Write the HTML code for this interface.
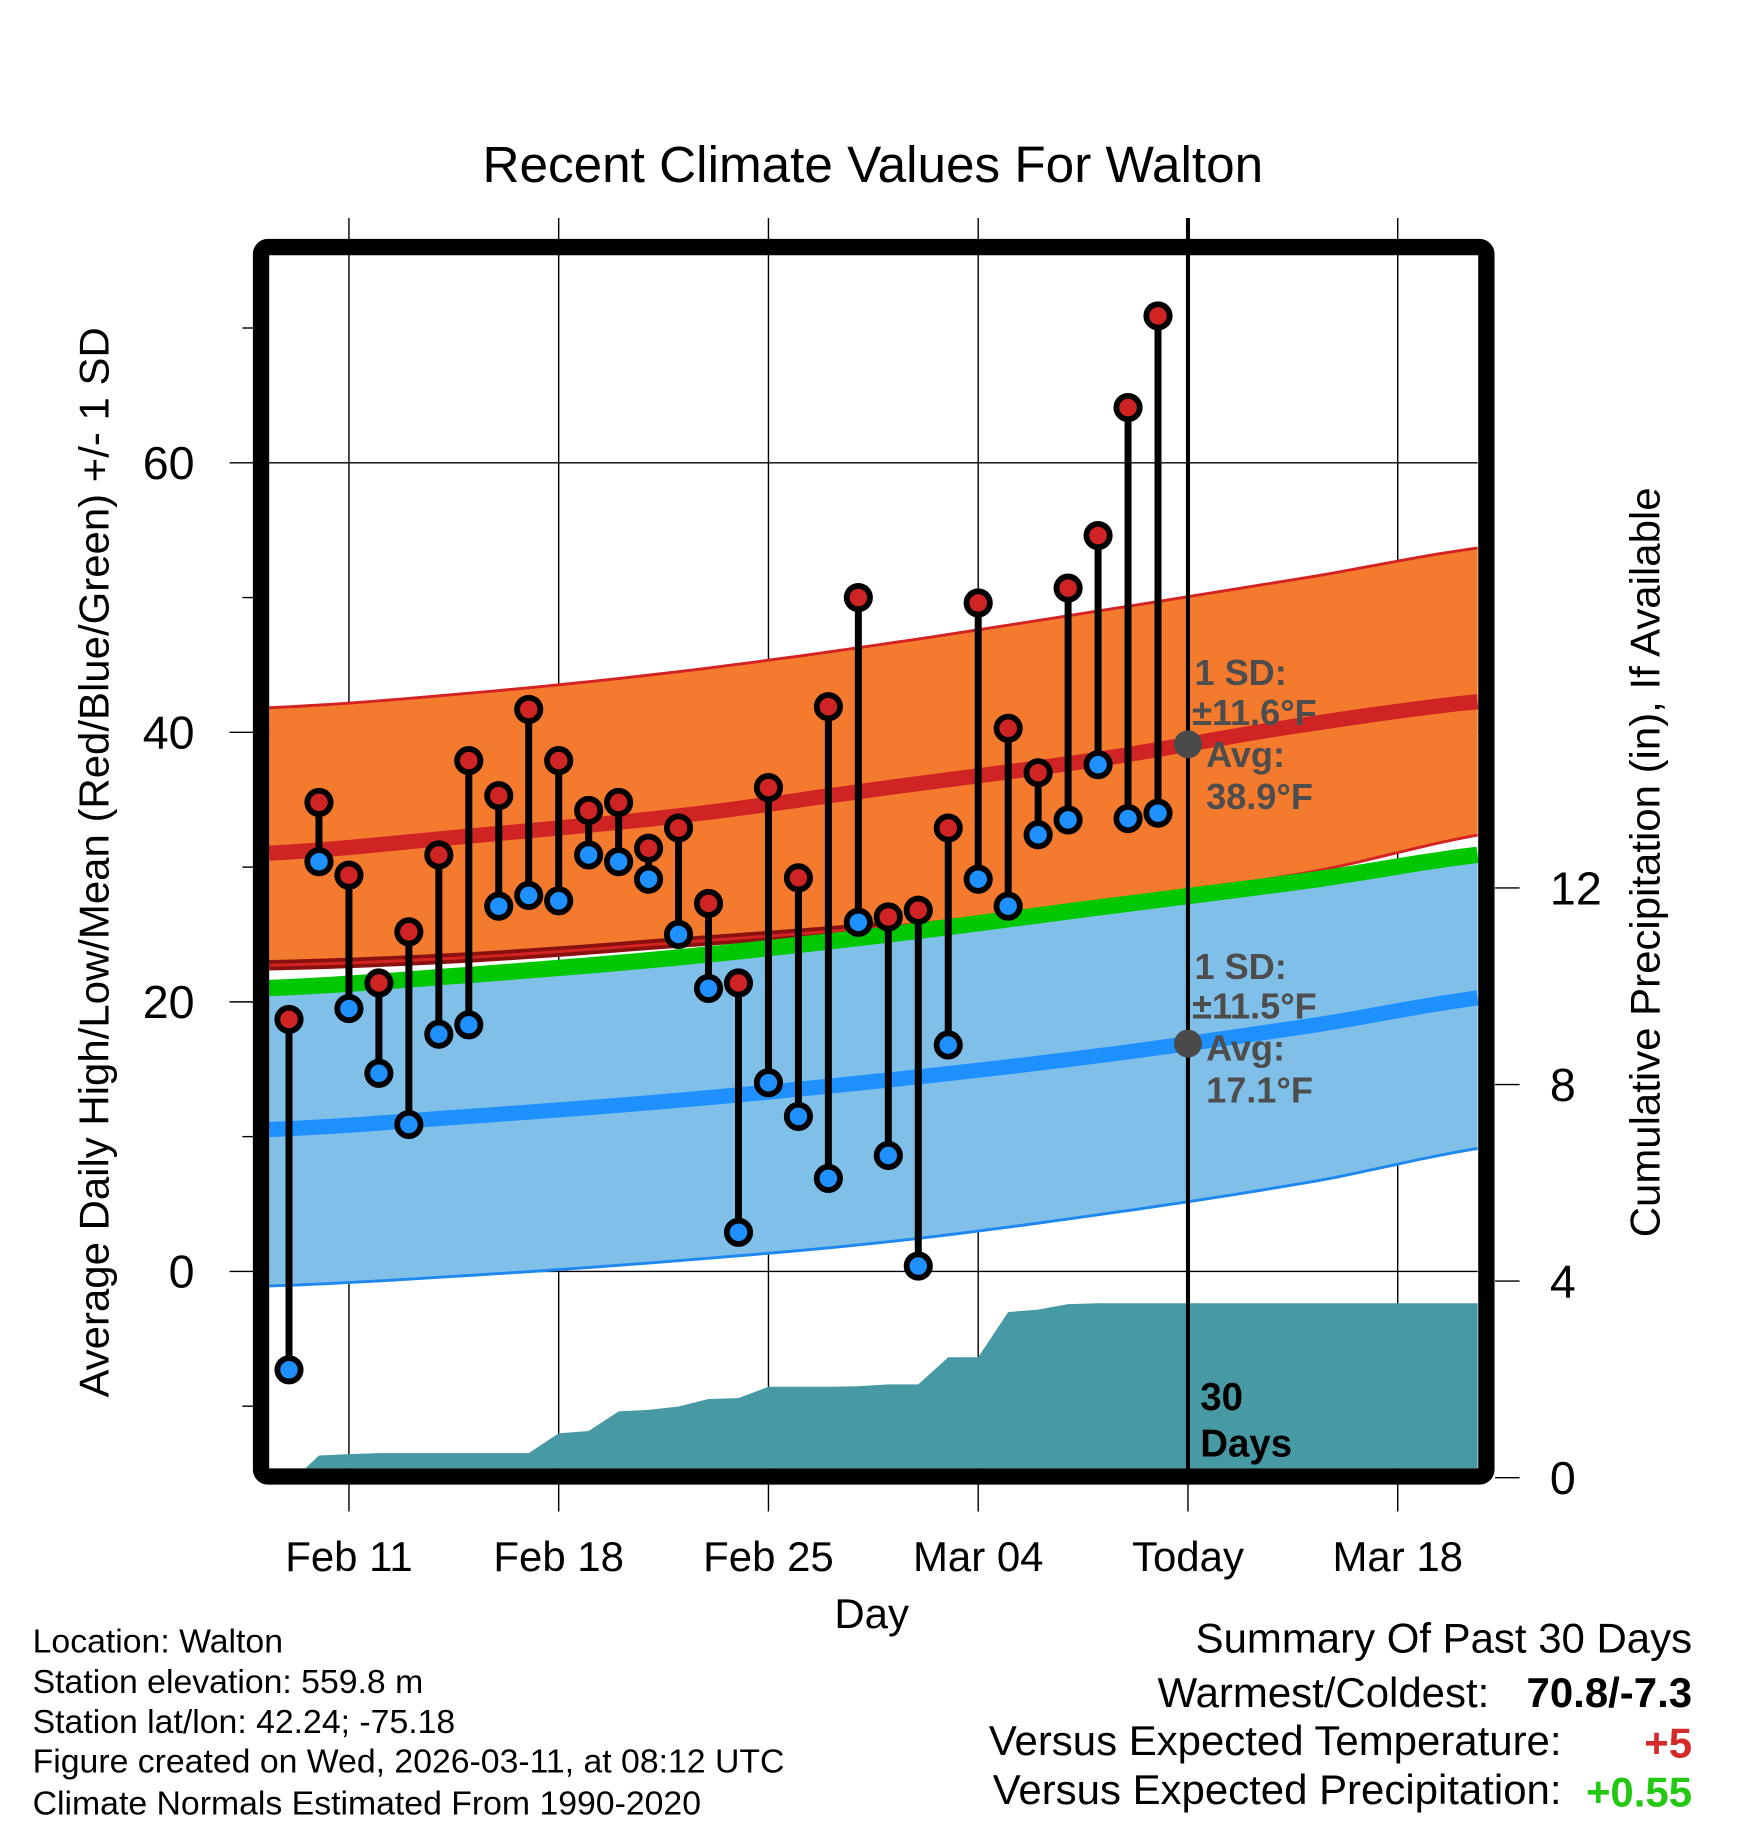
<!DOCTYPE html>
<html><head><meta charset="utf-8"><style>
html,body{margin:0;padding:0;background:#fff}
svg{display:block}
text{font-family:"Liberation Sans",Arial,sans-serif}
</style></head><body>
<svg id="chart" width="1748" height="1828" viewBox="0 0 1500 1568.6" xmlns="http://www.w3.org/2000/svg">
<text x="749" y="156" font-size="44" text-anchor="middle">Recent Climate Values For Walton</text>
<g id="grid"></g>
<g id="bands"></g>
<g id="precip"></g>
<g id="marks"></g>
<g id="axes"></g>
<text transform="translate(93,740) rotate(-90)" font-size="36" text-anchor="middle">Average Daily High/Low/Mean (Red/Blue/Green) +/- 1 SD</text>
<text transform="translate(1424,740) rotate(-90)" font-size="36" text-anchor="middle">Cumulative Precipitation (in), If Available</text>
<text x="748" y="1397" font-size="36" text-anchor="middle">Day</text>
<g font-size="29">
<text x="28" y="1418">Location: Walton</text>
<text x="28" y="1453">Station elevation: 559.8 m</text>
<text x="28" y="1487">Station lat/lon: 42.24; -75.18</text>
<text x="28" y="1521">Figure created on Wed, 2026-03-11, at 08:12 UTC</text>
<text x="28" y="1557">Climate Normals Estimated From 1990-2020</text>
</g>
<g font-size="36">
<text x="1452" y="1418" text-anchor="end">Summary Of Past 30 Days</text>
<text x="1278" y="1465" text-anchor="end">Warmest/Coldest:</text>
<text x="1452" y="1465" text-anchor="end" font-weight="bold">70.8/-7.3</text>
<text x="1340" y="1506" text-anchor="end">Versus Expected Temperature:</text>
<text x="1452" y="1508" text-anchor="end" font-weight="bold" fill="#d42a2a">+5</text>
<text x="1340" y="1548" text-anchor="end">Versus Expected Precipitation:</text>
<text x="1452" y="1550" text-anchor="end" font-weight="bold" fill="#22c811">+0.55</text>
</g>
</svg>
<script>
const highs=[18.7,34.8,29.4,21.4,25.2,30.9,37.9,35.3,41.7,37.9,34.2,34.8,31.4,32.9,27.3,21.4,35.9,29.2,41.9,50.0,26.3,26.8,32.9,49.6,40.3,37.0,50.7,54.6,64.1,70.9];
const lows=[-7.3,30.4,19.5,14.7,10.9,17.6,18.3,27.1,27.9,27.5,30.9,30.4,29.1,25.0,21.0,2.9,14.0,11.5,6.9,25.9,8.6,0.4,16.8,29.1,27.1,32.4,33.5,37.6,33.6,34.0];
const precip=[0,0.45,0.48,0.5,0.5,0.5,0.5,0.5,0.5,0.9,0.95,1.35,1.38,1.45,1.6,1.62,1.85,1.85,1.85,1.86,1.9,1.9,2.45,2.45,3.37,3.42,3.53,3.55,3.55,3.55];
// normals at weekly days (day offsets from Feb 9): Feb8,Feb15,Feb22,Mar1,Mar8,Mar15,Mar22
const normDays=[-1,6,13,20,27,34,41];
const avgHigh=[31.0,32.3,33.8,35.9,38.0,40.6,42.5];
const hiUpper=[41.8,42.9,44.5,46.6,49.0,51.5,54.0];
const hiLower=[22.7,23.3,24.4,25.6,27.3,29.6,32.8];
const avgMean=[21.0,22.0,23.3,25.0,27.0,29.0,31.2];
const avgLow=[10.5,11.5,12.7,14.2,16.0,18.2,20.6];
const loLower=[-1.1,-0.3,0.8,2.2,4.2,6.6,9.5];
const xTickDays=[2,9,16,23,30,37];
const xTickLabels=["Feb 11","Feb 18","Feb 25","Mar 04","Today","Mar 18"];
const yTicks=[0,20,40,60];
const yMinor=[-10,10,30,50,70];
const y2Ticks=[0,4,8,12];

const NS="http://www.w3.org/2000/svg";
const L=231,R=1268,T=218,B=1260;
const X=d=>248+d*25.714;
const Y=v=>1091-v*11.565;
const Y2=p=>1268-p*42.17;
function mk(tag,attrs,parent){const e=document.createElementNS(NS,tag);for(const k in attrs)e.setAttribute(k,attrs[k]);parent.appendChild(e);return e;}
const dMin=(L-248)/25.714,dMax=(R-248)/25.714;
function interp(arr,d){for(let i=0;i<normDays.length-1;i++){if(d<=normDays[i+1]||i==normDays.length-2){const t=(d-normDays[i])/(normDays[i+1]-normDays[i]);
const p0=arr[Math.max(i-1,0)],p1=arr[i],p2=arr[i+1],p3=arr[Math.min(i+2,arr.length-1)];
return 0.5*((2*p1)+(-p0+p2)*t+(2*p0-5*p1+4*p2-p3)*t*t+(-p0+3*p1-3*p2+p3)*t*t*t);}}}
function curve(arr){const pts=[];for(let k=0;k<=60;k++){const d=dMin+(dMax-dMin)*k/60;pts.push([X(d),Y(interp(arr,d))]);}return pts;}
const P=pts=>pts.map(p=>p[0].toFixed(1)+","+p[1].toFixed(1)).join(" ");

const grid=document.getElementById('grid');
xTickDays.forEach(d=>{const l=mk('line',{x1:X(d),x2:X(d),y1:187,y2:1297,stroke:'#000','stroke-width':1.2},grid);
});
yTicks.forEach(v=>{const l=mk('line',{x1:197,x2:R,y1:Y(v),y2:Y(v),stroke:'#000','stroke-width':1.2},grid);
});

const bands=document.getElementById('bands');
const cHU=curve(hiUpper),cHL=curve(hiLower),cAH=curve(avgHigh),cAM=curve(avgMean),cAL=curve(avgLow),cLL=curve(loLower);
let e;
e=mk('polygon',{points:P(cAM.concat(cLL.slice().reverse())),fill:'#80c0e8'},bands);

e=mk('polygon',{points:P(cHU.concat(cHL.slice().reverse())),fill:'#f47a2e'},bands);

e=mk('polyline',{points:P(cHU),fill:'none',stroke:'#d42323','stroke-width':2.5},bands);

e=mk('polyline',{points:P(cHL.slice(0,32)),fill:'none',stroke:'#8b1010','stroke-width':9},bands);

e=mk('polyline',{points:P(cHL),fill:'none',stroke:'#d42323','stroke-width':2.5},bands);

e=mk('polyline',{points:P(cAM),fill:'none',stroke:'#00c800','stroke-width':14},bands);

e=mk('polyline',{points:P(cAH),fill:'none',stroke:'#d02424','stroke-width':13},bands);

e=mk('polyline',{points:P(cAL),fill:'none',stroke:'#1e90ff','stroke-width':13},bands);

e=mk('polyline',{points:P(cLL),fill:'none',stroke:'#1e88f0','stroke-width':2.5},bands);


const pr=document.getElementById('precip');
let pp=[[X(0)+14,B]];precip.forEach((p,i)=>{if(i>0)pp.push([X(i),Math.min(Y2(p),B)]);});pp.push([R,Y2(precip[precip.length-1])]);pp.push([R,B]);
e=mk('polygon',{points:P(pp),fill:'#4799a3'},pr);


const marks=document.getElementById('marks');
e=mk('line',{x1:X(30),x2:X(30),y1:187,y2:B,stroke:'#000','stroke-width':3.5},marks);

highs.forEach((h,i)=>{const x=X(i);
const s=mk('line',{x1:x,x2:x,y1:Y(h),y2:Y(lows[i]),stroke:'#000','stroke-width':6},marks);
});
highs.forEach((h,i)=>{const x=X(i);
const c1=mk('circle',{cx:x,cy:Y(h),r:10,fill:'#d02424',stroke:'#000','stroke-width':5},marks);

const c2=mk('circle',{cx:x,cy:Y(lows[i]),r:10,fill:'#1e90ff',stroke:'#000','stroke-width':5},marks);
});
const todayHi=interp(avgHigh,30),todayLo=interp(avgLow,30);
e=mk('circle',{cx:X(30),cy:Y(todayHi),r:12,fill:'#4a4a4a'},marks);

e=mk('circle',{cx:X(30),cy:Y(todayLo),r:12,fill:'#4a4a4a'},marks);

function lbl(txt,x,y,fs,fill,name){const t=mk('text',{x:x,y:y,'font-size':fs,'font-weight':'bold',fill:fill},marks);t.textContent=txt;
}
lbl('1 SD:',1025,588,31,'#4d4d4d','high-sd-label');lbl('±11.6°F',1023,622,31,'#4d4d4d','high-sd-value');
lbl('Avg:',1035,658,31,'#4d4d4d','high-avg-label');lbl('38.9°F',1035,694,31,'#4d4d4d','high-avg-value');
lbl('1 SD:',1025,840,31,'#4d4d4d','low-sd-label');lbl('±11.5°F',1023,874,31,'#4d4d4d','low-sd-value');
lbl('Avg:',1035,910,31,'#4d4d4d','low-avg-label');lbl('17.1°F',1035,946,31,'#4d4d4d','low-avg-value');
lbl('30',1030,1210,33,'#000','days-label-1');lbl('Days',1030,1250,33,'#000','days-label-2');

const ax=document.getElementById('axes');
e=mk('rect',{x:224,y:212,width:1051.5,height:1055,fill:'none',stroke:'#000','stroke-width':14,rx:6},ax);

yTicks.forEach(v=>{const t=mk('text',{x:167,y:Y(v)+14,'font-size':40,'text-anchor':'end'},ax);t.textContent=v;
});
yMinor.forEach(v=>{const l=mk('line',{x1:208,x2:217,y1:Y(v),y2:Y(v),stroke:'#000','stroke-width':1.2},ax);
});
y2Ticks.forEach(p=>{const l=mk('line',{x1:1283,x2:1304,y1:Y2(p),y2:Y2(p),stroke:'#000','stroke-width':1.2},ax);

const t=mk('text',{x:1330,y:Y2(p)+14,'font-size':40},ax);t.textContent=p;
});
xTickDays.forEach((d,i)=>{const t=mk('text',{x:X(d),y:1348,'font-size':36,'text-anchor':'middle'},ax);t.textContent=xTickLabels[i];
});
</script>
</body></html>
